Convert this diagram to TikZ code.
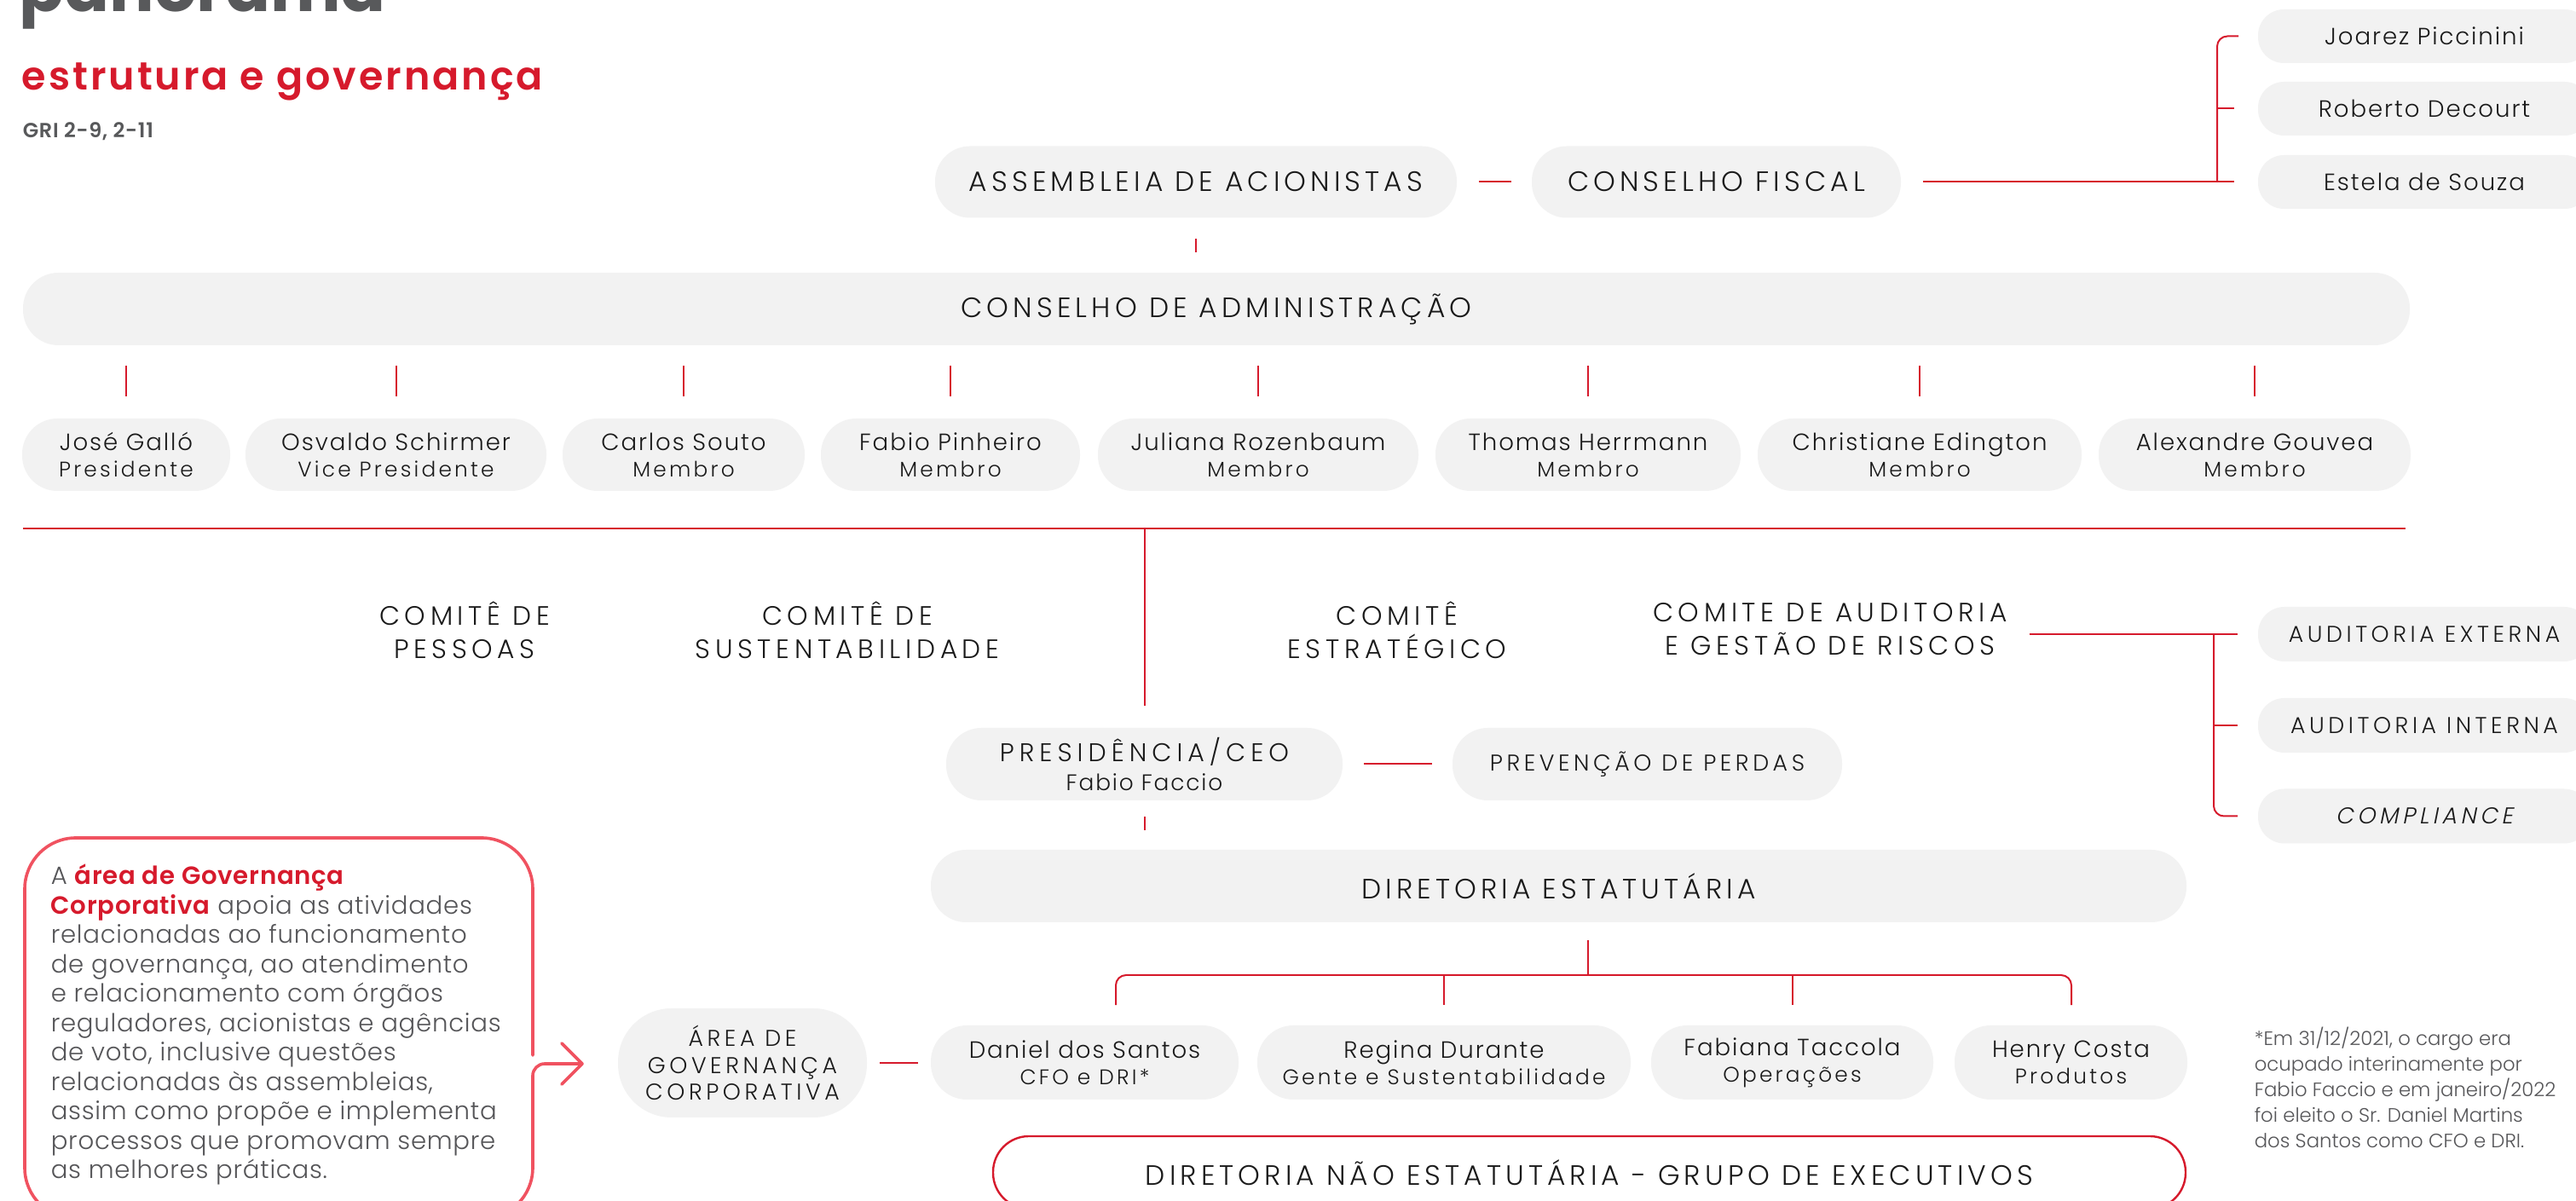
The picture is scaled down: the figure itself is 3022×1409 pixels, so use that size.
\documentclass[tikz,border=0pt]{standalone}
\usepackage{fontspec}
\setmainfont{Poppins}
\newfontfamily\lt{Poppins Light}
\newfontfamily\ltpara{Poppins Light}[LetterSpace=2.5]
\newfontfamily\boldpara{Poppins SemiBold}[LetterSpace=2.5]
\newfontfamily\ltcaps{Poppins Light}[LetterSpace=15.5]
\newfontfamily\ltcom{Poppins Light}[LetterSpace=18]
\newfontfamily\ltpres{Poppins Light}[LetterSpace=20]
\newfontfamily\ltsmall{Poppins Light}[LetterSpace=17]
\newfontfamily\ltsmallit{Poppins Light}[LetterSpace=17,FakeSlant=0.2]
\newfontfamily\ltname{Poppins Light}[LetterSpace=7]
\newfontfamily\ltrole{Poppins Light}[LetterSpace=13]
\newfontfamily\semisp{Poppins SemiBold}[LetterSpace=6.5]
\newfontfamily\semigri{Poppins SemiBold}[LetterSpace=3]
\usetikzlibrary{arrows.meta}
\definecolor{rred}{RGB}{214,26,44}
\definecolor{coral}{RGB}{240,82,96}
\definecolor{boxgray}{RGB}{242,242,242}
\definecolor{ink}{RGB}{26,26,26}
\definecolor{titlegray}{RGB}{88,89,91}
\definecolor{bodygray}{RGB}{85,85,88}
\newcommand\capsA{\ltcaps\fontsize{8.2pt}{10pt}\selectfont}
\newcommand\capsC{\ltcom\fontsize{7.8pt}{9.7pt}\selectfont}
\newcommand\capsP{\ltpres\fontsize{7.5pt}{8.5pt}\selectfont}
\newcommand\capsB{\ltsmall\fontsize{6.7pt}{7.9pt}\selectfont}
\newcommand\nameA{\ltname\fontsize{6.9pt}{7.75pt}\selectfont}
\newcommand\roleA{\ltrole\fontsize{6.2pt}{7.75pt}\selectfont}
\tikzset{
  pill/.style 2 args={fill=boxgray, text=ink, inner sep=0pt, align=center,
    minimum width={#1*0.25pt}, minimum height={#2*0.25pt},
    rounded corners={#2*0.125pt-0.25pt}},
  conn/.style={draw=rred, line width=0.5pt},
  comite/.style={text=ink, inner sep=0pt, align=center, font=\capsC},
  member/.style={font=\nameA},
  coralline/.style={draw=coral, line width=0.9pt, line cap=round, line join=round},
}
\begin{document}
\begin{tikzpicture}[x=0.25pt, y=-0.25pt]
\useasboundingbox (0,0) rectangle (3022,1409);
\clip (0,0) rectangle (3022,1409);
\fill[white] (0,0) rectangle (3022,1409);

% titles
\node[anchor=base west, inner sep=0pt, text=titlegray, font=\rmfamily\bfseries\fontsize{19.5pt}{20pt}\selectfont] (ttl) at (22,14) {panorama};
\node[anchor=base west, inner sep=0pt, text=rred, font=\semisp\fontsize{11.5pt}{13pt}\selectfont] (sub) at (25,106) {estrutura e governança};
\node[anchor=base west, inner sep=0pt, text=titlegray, font=\semigri\fontsize{6pt}{8pt}\selectfont] (gri) at (26,162) {GRI 2-9, 2-11};

% top row
\node[pill={612}{84}, font=\capsA] (asm) at (1403,213.5) {ASSEMBLEIA DE ACIONISTAS};
\node[pill={433}{84}, font=\capsA] (cf) at (2013.5,213.5) {CONSELHO FISCAL};
\node[pill={390}{63}, font=\nameA] (joarez) at (2844,42.5) {Joarez Piccinini};
\node[pill={390}{63}, font=\nameA] (roberto) at (2844,127.5) {Roberto Decourt};
\node[pill={390}{63}, font=\nameA] (estela) at (2844,213.5) {Estela de Souza};

% board
\node[pill={2800}{85}, font=\capsA] (cda) at (1427,362.5) {CONSELHO DE ADMINISTRAÇÃO};
\node[pill={244}{85}, member] (b1) at (148,533.5) {José Galló\\{\roleA Presidente}};
\node[pill={353}{85}, member] (b2) at (464.5,533.5) {Osvaldo Schirmer\\{\roleA Vice Presidente}};
\node[pill={284}{85}, member] (b3) at (802,533.5) {Carlos Souto\\{\roleA Membro}};
\node[pill={304}{85}, member] (b4) at (1115,533.5) {Fabio Pinheiro\\{\roleA Membro}};
\node[pill={376}{85}, member] (b5) at (1476,533.5) {Juliana Rozenbaum\\{\roleA Membro}};
\node[pill={358}{85}, member] (b6) at (1863,533.5) {Thomas Herrmann\\{\roleA Membro}};
\node[pill={380}{85}, member] (b7) at (2252,533.5) {Christiane Edington\\{\roleA Membro}};
\node[pill={366}{85}, member] (b8) at (2645,533.5) {Alexandre Gouvea\\{\roleA Membro}};

% committees
\node[comite] (cp) at (545,739) {COMITÊ DE\\PESSOAS};
\node[comite] (cs) at (994,739) {COMITÊ DE\\SUSTENTABILIDADE};
\node[comite] (ce) at (1639,739) {COMITÊ\\ESTRATÉGICO};
\node[comite] (ca) at (2147,738) {COMITE DE AUDITORIA\\E GESTÃO DE RISCOS};
\node[pill={390}{64}, font=\capsB] (ae) at (2844,744) {AUDITORIA EXTERNA};
\node[pill={390}{64}, font=\capsB] (ai) at (2844,851) {AUDITORIA INTERNA};
\node[pill={390}{64}, font=\ltsmallit\fontsize{6.7pt}{7.9pt}\selectfont] (ac) at (2844,957.5) {COMPLIANCE};

% presidency
\node[pill={465}{85}, font=\capsP] (pres) at (1342.5,896.5) {PRESIDÊNCIA/CEO\\{\ltname\fontsize{6.6pt}{8.5pt}\selectfont Fabio Faccio}};
\node[pill={457}{85}, font=\capsB] (prev) at (1932.5,896.5) {PREVENÇÃO DE PERDAS};
\node[pill={1473}{85}, font=\capsA] (dir) at (1828.5,1039.5) {DIRETORIA ESTATUTÁRIA};

% directors
\node[pill={361}{87}, member] (daniel) at (1272.5,1246.5) {Daniel dos Santos\\{\roleA CFO e DRI*}};
\node[pill={438}{87}, member] (regina) at (1694,1246.5) {Regina Durante\\{\roleA Gente e Sustentabilidade}};
\node[pill={331}{87}, member] (fabiana) at (2102.5,1246.5) {Fabiana Taccola\\{\roleA Operações}};
\node[pill={273}{87}, member] (henry) at (2429.5,1246.5) {Henry Costa\\{\roleA Produtos}};
\node[pill={292}{128}, font=\capsB] (area) at (871,1247) {ÁREA DE\\GOVERNANÇA\\CORPORATIVA};
\node[draw=rred, line width=0.6pt, fill=white, text=ink, inner sep=0pt, rounded corners=10.5pt,
  minimum width={1399*0.25pt}, minimum height={85*0.25pt}, font=\capsA] (dne) at (1864.5,1375.5)
  {DIRETORIA NÃO ESTATUTÁRIA - GRUPO DE EXECUTIVOS};

% connectors
\draw[conn, shorten <=6.25pt, shorten >=5.75pt] (asm.east) -- (cf.west);
\draw[conn, shorten <=6.25pt, shorten >=6.75pt] (cf.east) -- (estela.west);
\coordinate (fj) at (2601,213.5);
\draw[conn, rounded corners=3pt, shorten >=5.5pt] (fj) -- (fj |- joarez.west) -- (joarez.west);
\draw[conn, shorten >=6.75pt] (fj |- roberto.west) -- (roberto.west);
\draw[conn, shorten <=6pt, shorten >=5.75pt] (asm.south) -- (asm.south |- cda.north);
\foreach \b in {b1,b2,b3,b4,b5,b6,b7,b8}
  \draw[conn, shorten <=5.75pt, shorten >=6.25pt] (\b.north |- cda.south) -- (\b.north);
\coordinate (barL) at (27,620);
\coordinate (barR) at (2822,620);
\coordinate (barJ) at (1343,620);
\draw[conn] (barL) -- (barR);
\draw[conn, shorten >=6.25pt] (barJ) -- (barJ |- pres.north);
\draw[conn, shorten <=6.25pt, shorten >=5.75pt] (ca.east |- ae.west) -- (ae.west);
\coordinate (aj) at (2597,744);
\draw[conn, rounded corners=3pt, shorten >=5.75pt] (aj) -- (aj |- ac.west) -- (ac.west);
\draw[conn, shorten >=5.75pt] (aj |- ai.west) -- (ai.west);
\draw[conn, shorten <=6pt, shorten >=5.75pt] (pres.east) -- (prev.west);
\draw[conn, shorten <=4.5pt, shorten >=5.5pt] (pres.south) -- (pres.south |- dir.north);
\coordinate (dj) at (1863,1144);
\draw[conn, shorten <=5pt] (dj |- dir.south) -- (dj);
\coordinate (dL) at (1309,1144);
\coordinate (dR) at (2430,1144);
\draw[conn, rounded corners=3pt, shorten <=5.75pt, shorten >=5.75pt] (dL |- daniel.north) -- (dL) -- (dR) -- (dR |- henry.north);
\draw[conn, shorten >=5.75pt] (regina.north |- dL) -- (regina.north);
\draw[conn, shorten >=5.75pt] (fabiana.north |- dL) -- (fabiana.north);
\draw[conn, shorten <=3.5pt, shorten >=3.5pt] (area.east) -- (area.east -| daniel.west);

% text box with arrow
\draw[coralline, rounded corners=15pt] (625,1238) -- (625,983) -- (29,983) -- (29,1430) -- (625,1430) -- (625,1300);
\coordinate (tip) at (683,1248);
\draw[coralline, rounded corners=3.5pt] (625,1300) -- (625,1248) -- (tip);
\draw[coralline] (659,1224) -- (tip) -- (659,1272);
\node[anchor=base west, inner sep=0pt, text=bodygray, font=\ltpara\fontsize{7.3pt}{8.625pt}\selectfont] (para) at (59,1038)
{\vtop{\baselineskip=8.625pt
\hbox{A \textcolor{rred}{\boldpara área de Governança}}
\hbox{\textcolor{rred}{\boldpara Corporativa} apoia as atividades}
\hbox{relacionadas ao funcionamento}
\hbox{de governança, ao atendimento}
\hbox{e relacionamento com órgãos}
\hbox{reguladores, acionistas e agências}
\hbox{de voto, inclusive questões}
\hbox{relacionadas às assembleias,}
\hbox{assim como propõe e implementa}
\hbox{processos que promovam sempre}
\hbox{as melhores práticas.}}};

% footnote
\node[anchor=base west, inner sep=0pt, text=bodygray, font=\lt\fontsize{5.7pt}{7.44pt}\selectfont] (fn) at (2644,1227)
{\vtop{\baselineskip=7.44pt
\hbox{*Em 31/12/2021, o cargo era}
\hbox{ocupado interinamente por}
\hbox{Fabio Faccio e em janeiro/2022}
\hbox{foi eleito o Sr. Daniel Martins}
\hbox{dos Santos como CFO e DRI.}}};
\end{tikzpicture}
\end{document}
